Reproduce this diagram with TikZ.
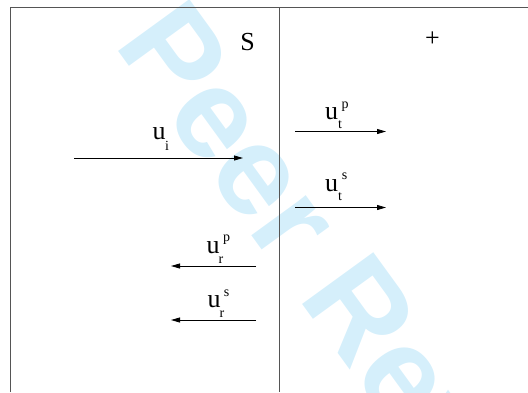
\documentclass[tikz,border=0pt]{standalone}
\usepackage{fontspec}
\setmainfont{Liberation Serif}
\newfontfamily\lblfont{Liberation Serif}
\newfontfamily\wmfont{Liberation Sans}
\usetikzlibrary{arrows.meta}
\definecolor{wm}{HTML}{D5EFFB}
\definecolor{framecol}{HTML}{555555}
\begin{document}
\begin{tikzpicture}[x=1pt,y=-1pt,
  mainlbl/.style={anchor=base,inner sep=0pt,font=\lblfont\fontsize{26}{26}\selectfont},
  idxlbl/.style={anchor=base,inner sep=0pt,font=\lblfont\fontsize{14}{14}\selectfont},
  vec/.style={line width=0.8pt,-{Triangle[length=9pt,width=5pt]}},
  border/.style={draw=framecol,line width=1pt}]
\useasboundingbox (0,0) rectangle (528,392);
% watermark
\node[rotate=-54,anchor=base west,inner sep=0pt,text=wm,
  font=\wmfont\fontsize{128}{128}\bfseries\selectfont] (wmk) at (113,44) {Peer Review};
% frame
\coordinate (tl) at (10,7);
\coordinate (tr) at (528,7);
\coordinate (bl) at (10,392);
\coordinate (mt) at (279,7);
\coordinate (mb) at (279,392);
\draw[border] (bl) -- (tl) -- (tr);
\draw[border] (mt) -- (mb);
% region labels
\node[mainlbl] (S) at (247.5,50) {S};
\node[mainlbl] (plus) at (432.5,46) {+};
% incident
\coordinate (ia) at (74,158);
\coordinate (ib) at (243,158);
\draw[vec] (ia) -- (ib);
\node[mainlbl] (ui) at (159,139) {u};
\node[idxlbl] (uisub) at (167,150) {i};
% transmitted p
\coordinate (tpa) at (295,131.5);
\coordinate (tpb) at (386,131.5);
\draw[vec] (tpa) -- (tpb);
\node[mainlbl] (utp) at (331.5,119) {u};
\node[idxlbl] (utpsub) at (340,128) {t};
\node[idxlbl] (utpsup) at (345,108) {p};
% transmitted s
\coordinate (tsa) at (295,207.5);
\coordinate (tsb) at (386,207.5);
\draw[vec] (tsa) -- (tsb);
\node[mainlbl] (uts) at (331.5,191) {u};
\node[idxlbl] (utssub) at (340,200) {t};
\node[idxlbl] (utssup) at (344.5,179) {s};
% reflected p
\coordinate (rpa) at (256,266);
\coordinate (rpb) at (171,266);
\draw[vec] (rpa) -- (rpb);
\node[mainlbl] (urp) at (213,253) {u};
\node[idxlbl] (urpsub) at (221,263) {r};
\node[idxlbl] (urpsup) at (226.5,241) {p};
% reflected s
\coordinate (rsa) at (256,320);
\coordinate (rsb) at (171,320);
\draw[vec] (rsa) -- (rsb);
\node[mainlbl] (urs) at (214,307) {u};
\node[idxlbl] (urssub) at (222,317) {r};
\node[idxlbl] (urssup) at (226.5,296) {s};
\end{tikzpicture}
\end{document}
